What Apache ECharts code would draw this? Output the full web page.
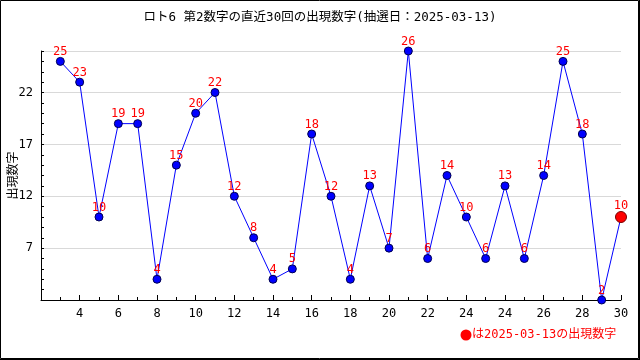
<!DOCTYPE html>
<html><head><meta charset="utf-8">
<script src="https://cdn.jsdelivr.net/npm/echarts@6/dist/echarts.min.js"></script>
<style>html,body{margin:0;padding:0;background:#fff}#c{width:640px;height:360px}</style>
</head><body><div id="c"></div>
<script>
const titleText = 'ロト6 第2数字の直近30回の出現数字(抽選日：2025-03-13)';
const yAxisName = '出現数字';
const legendText = 'は2025-03-13の出現数字';
const values = [25,23,10,19,19,4,15,20,22,12,8,4,5,18,12,4,13,7,26,6,14,10,6,13,6,14,25,18,2,10];
// tick labels for x tick values 0,2,4,...,30
const xTickLabels = ['', '4','6','8','10','12','14','16','18','20','22','24','24','26','28','30'];
const yTickLabels = [7,12,17,22];

const FONT = '"DejaVu Sans Mono", "Noto Sans CJK JP", monospace';
const lastIdx = values.length - 1;
const seriesData = values.map((v, i) => {
  const item = { value: [i + 1, v] };
  if (i === lastIdx) {
    item.symbolSize = 11;
    item.itemStyle = { color: '#ff0000', borderColor: '#7a0000', borderWidth: 1 };
  }
  return item;
});

const chart = echarts.init(document.getElementById('c'), null, { renderer: 'canvas' });
chart.setOption({
  animation: false,
  backgroundColor: '#ffffff',
  title: {
    text: titleText, left: 'center', top: 6,
    textStyle: { fontSize: 12.5, fontWeight: 'normal', color: '#000', fontFamily: FONT }
  },
  grid: { left: 41, right: 19, top: 51, bottom: 60, containLabel: false, outerBoundsMode: 'none' },
  xAxis: {
    type: 'value', min: 0, max: 30, interval: 2,
    axisLine: { lineStyle: { color: '#000', width: 1 } },
    axisTick: { inside: true, length: 5, lineStyle: { color: '#000' } },
    minorTick: { show: true, splitNumber: 2, length: 3, lineStyle: { color: '#000' } },
    splitLine: { show: false },
    axisLabel: {
      margin: 8, color: '#000', fontSize: 12, fontFamily: FONT,
      formatter: v => xTickLabels[Math.round(v / 2)] || ''
    }
  },
  yAxis: [{
    type: 'value', min: 2, max: 26, interval: 1,
    name: yAxisName, nameLocation: 'middle', nameGap: 21, nameRotate: 90, nameMoveOverlap: false,
    nameTextStyle: { fontSize: 12, color: '#000', fontFamily: FONT },
    axisLine: { show: true, lineStyle: { color: '#000', width: 1 } },
    axisTick: { inside: true, length: 3, lineStyle: { color: '#000' } },
    splitLine: { show: false },
    axisLabel: {
      margin: 8, color: '#000', fontSize: 12, fontFamily: FONT,
      formatter: v => yTickLabels.includes(v) ? String(v) : ''
    }
  }, {
    type: 'value', min: 2, max: 26, interval: 5, position: 'left',
    axisLine: { show: false }, axisTick: { show: false }, axisLabel: { show: false },
    splitLine: { show: true, lineStyle: { color: '#d9d9d9', width: 1 } }
  }],
  series: [{
    type: 'line', yAxisIndex: 0,
    data: seriesData,
    symbol: 'circle', symbolSize: 8,
    lineStyle: { color: '#0000ff', width: 1 },
    itemStyle: { color: '#0000ff', borderColor: '#000050', borderWidth: 1 },
    label: {
      show: true, position: 'top', distance: -1,
      color: '#ff0000', fontSize: 12, fontFamily: FONT,
      formatter: p => String(p.value[1])
    },
    z: 3
  }],
  graphic: [
    { type: 'rect', silent: true, z: 100, shape: { x: 0.5, y: 0.5, width: 638, height: 358 },
      style: { fill: 'none', stroke: '#000', lineWidth: 1 } },
    { type: 'line', silent: true, z: 100, shape: { x1: 639.5, y1: 0, x2: 639.5, y2: 360 },
      style: { stroke: '#000', lineWidth: 1 } },
    { type: 'line', silent: true, z: 100, shape: { x1: 0, y1: 359.5, x2: 640, y2: 359.5 },
      style: { stroke: '#000', lineWidth: 1 } },
    { type: 'circle', silent: true, z: 100, shape: { cx: 466, cy: 335, r: 5.5 },
      style: { fill: '#ff0000' } },
    { type: 'text', silent: true, z: 100, x: 472, y: 335,
      style: { text: legendText, fill: '#ff0000', fontSize: 12, fontFamily: FONT, verticalAlign: 'middle', align: 'left' } }
  ]
});
</script>
</body></html>
